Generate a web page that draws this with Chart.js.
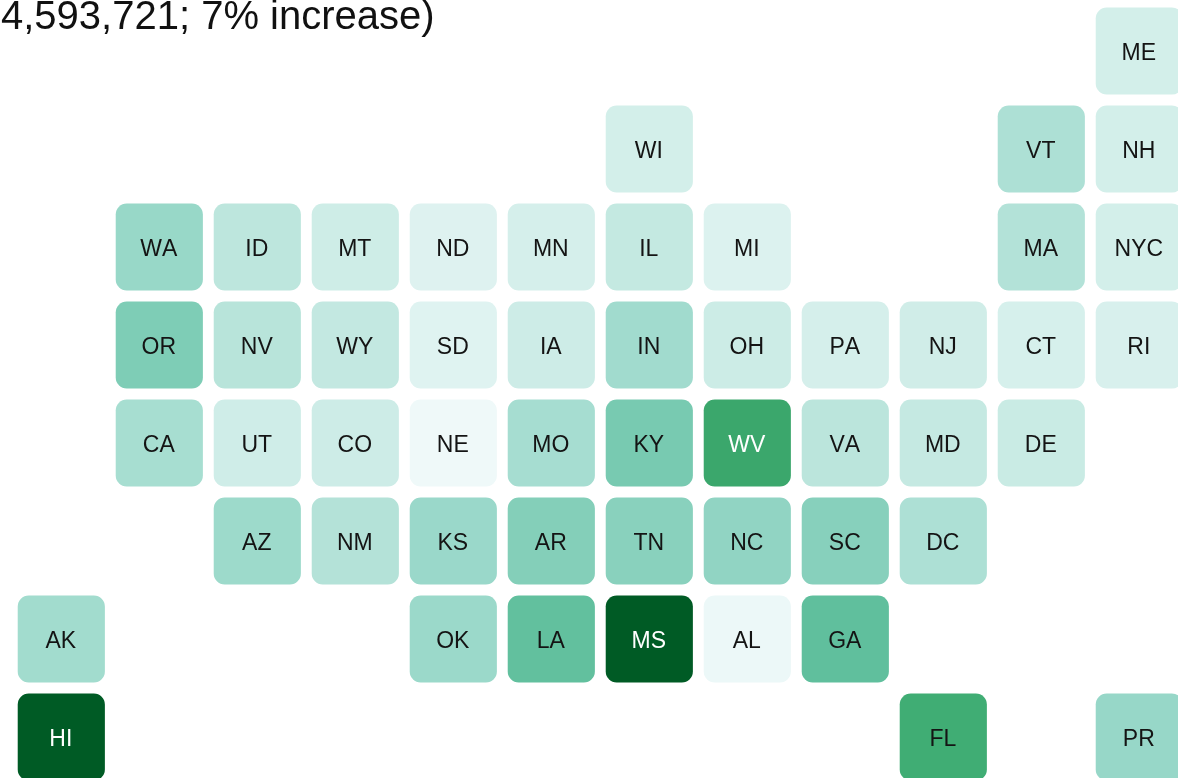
<!DOCTYPE html>
<html>
<head>
<meta charset="utf-8">
<title>Tile map</title>
<script src="https://cdn.jsdelivr.net/npm/chart.js@4"></script>
<style>
    html, body { margin: 0; padding: 0; background: #fff; overflow: hidden; }
    canvas { display: block; }
</style>
</head>
<body>
<canvas id="tileMap" width="1178" height="778"></canvas>
<script>
// Heading line, cropped at the top of the picture
const headingText = '4,593,721; 7% increase)';

// One entry per tile, same order in all four lists
const states = [
    'ME',
    'WI', 'VT', 'NH',
    'WA', 'ID', 'MT', 'ND', 'MN', 'IL', 'MI', 'MA', 'NYC',
    'OR', 'NV', 'WY', 'SD', 'IA', 'IN', 'OH', 'PA', 'NJ', 'CT', 'RI',
    'CA', 'UT', 'CO', 'NE', 'MO', 'KY', 'WV', 'VA', 'MD', 'DE',
    'AZ', 'NM', 'KS', 'AR', 'TN', 'NC', 'SC', 'DC',
    'AK', 'OK', 'LA', 'MS', 'AL', 'GA',
    'HI', 'FL', 'PR'
];
const tileCols = [
    11,
    6, 10, 11,
    1, 2, 3, 4, 5, 6, 7, 10, 11,
    1, 2, 3, 4, 5, 6, 7, 8, 9, 10, 11,
    1, 2, 3, 4, 5, 6, 7, 8, 9, 10,
    2, 3, 4, 5, 6, 7, 8, 9,
    0, 4, 5, 6, 7, 8,
    0, 9, 11
];
const tileRows = [
    0,
    1, 1, 1,
    2, 2, 2, 2, 2, 2, 2, 2, 2,
    3, 3, 3, 3, 3, 3, 3, 3, 3, 3, 3,
    4, 4, 4, 4, 4, 4, 4, 4, 4, 4,
    5, 5, 5, 5, 5, 5, 5, 5,
    6, 6, 6, 6, 6, 6,
    7, 7, 7
];
// Estimated % increase, read off the tile shade
const changes = [
    4.3,
    4.3, 6.5, 4.3,
    7.55, 5.75, 4.8, 3.2, 4.1, 5.4, 3.4, 6.25, 4.3,
    8.8, 6.0, 5.45, 3.1, 4.9, 7.1, 5.0, 4.1, 4.6, 4.0, 3.8,
    6.8, 4.7, 4.9, 1.1, 6.85, 9.1, 13.0, 5.85, 5.35, 5.15,
    7.3, 6.2, 7.45, 8.55, 8.3, 7.9, 8.4, 6.5,
    7.05, 7.4, 10.3, 18.6, 1.5, 10.4,
    18.6, 12.6, 7.6
];

// Blue-green colour ramp, evenly spaced over 0..maxChange
const maxChange = 20;
const rampColors = ['#f7fcfd', '#e5f5f4', '#ccece6', '#99d8c9', '#66c2a4', '#41ae76', '#238b45', '#006d2c', '#00441b'];

function hexToRgb(hex) {
    return [1, 3, 5].map(i => parseInt(hex.slice(i, i + 2), 16));
}

function shadeFor(value) {
    const pos = Math.min(value / maxChange, 1) * (rampColors.length - 1);
    const low = Math.min(Math.floor(pos), rampColors.length - 2);
    const a = hexToRgb(rampColors[low]);
    const b = hexToRgb(rampColors[low + 1]);
    const mix = a.map((c, i) => Math.round(c + (b[i] - c) * (pos - low)));
    return `rgb(${mix[0]}, ${mix[1]}, ${mix[2]})`;
}

// Layout of the grid in pixels
const tileStep = 98;
const tileSize = 86.5;
const firstColCenter = 61.3;
const firstRowCenter = 51;
const labelFont = "23px 'Liberation Sans', Arial, sans-serif";
const headingFont = "40px 'Liberation Sans', Arial, sans-serif";

// State codes and the heading line
const tileLabels = {
    id: 'tileLabels',
    afterDatasetsDraw(chart) {
        const ctx = chart.ctx;
        const bars = chart.getDatasetMeta(0).data;
        ctx.save();
        ctx.textAlign = 'center';
        ctx.textBaseline = 'middle';
        ctx.font = labelFont;
        ctx.fontKerning = 'none';
        bars.forEach((bar, i) => {
            const center = bar.getCenterPoint();
            ctx.fillStyle = changes[i] > 12.8 ? '#ffffff' : '#141414';
            ctx.fillText(states[i], center.x - 0.5, center.y + 2.5);
        });
        ctx.fontKerning = 'auto';
        ctx.textAlign = 'left';
        ctx.textBaseline = 'alphabetic';
        ctx.font = headingFont;
        ctx.fillStyle = '#111111';
        ctx.fillText(headingText, 1, 29);
        ctx.restore();
    }
};

const halfTile = tileSize / tileStep / 2;

new Chart(document.getElementById('tileMap'), {
    type: 'bar',
    data: {
        datasets: [{
            label: '% increase',
            data: states.map((s, i) => ({
                x: tileCols[i],
                y: [tileRows[i] - halfTile, tileRows[i] + halfTile]
            })),
            backgroundColor: changes.map(shadeFor),
            borderRadius: 11,
            borderSkipped: false,
            borderWidth: 0,
            barThickness: tileSize
        }]
    },
    options: {
        responsive: false,
        animation: false,
        layout: { padding: 0 },
        plugins: {
            legend: { display: false },
            title: { display: false },
            tooltip: { enabled: false }
        },
        scales: {
            x: {
                type: 'linear',
                display: false,
                offset: false,
                min: -firstColCenter / tileStep,
                max: (1178 - firstColCenter) / tileStep
            },
            y: {
                type: 'linear',
                display: false,
                reverse: true,
                min: -firstRowCenter / tileStep,
                max: (778 - firstRowCenter) / tileStep
            }
        }
    },
    plugins: [tileLabels]
});
</script>
</body>
</html>
